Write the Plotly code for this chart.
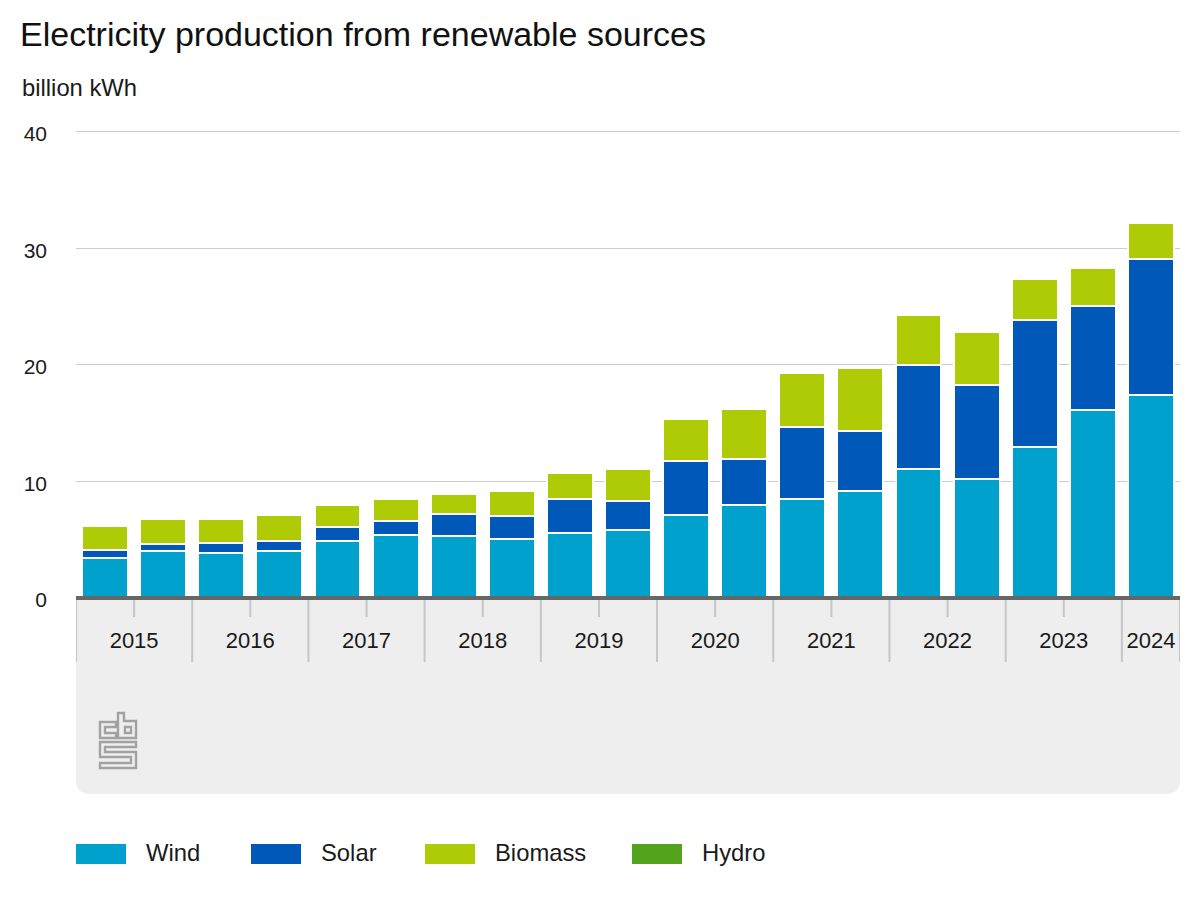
import plotly.graph_objects as go

# half-year periods, 2024 only has the first half
periods = ['2015 H1', '2015 H2', '2016 H1', '2016 H2', '2017 H1', '2017 H2', '2018 H1', '2018 H2',
           '2019 H1', '2019 H2', '2020 H1', '2020 H2', '2021 H1', '2021 H2', '2022 H1', '2022 H2',
           '2023 H1', '2023 H2', '2024 H1']
positions = list(range(len(periods)))

wind    = [3.4, 4.0, 3.9, 4.0, 4.9, 5.4, 5.3, 5.1, 5.6, 5.8, 7.1, 8.0, 8.5, 9.2, 11.1, 10.2, 13.0, 16.1, 17.4]
solar   = [0.7, 0.6, 0.8, 0.9, 1.2, 1.2, 1.9, 1.9, 2.9, 2.5, 4.7, 3.9, 6.2, 5.1, 8.9, 8.1, 10.9, 9.0, 11.7]
biomass = [2.1, 2.2, 2.1, 2.2, 1.9, 1.9, 1.7, 2.2, 2.2, 2.8, 3.6, 4.3, 4.6, 5.4, 4.3, 4.5, 3.5, 3.2, 3.1]
hydro   = [0.03, 0.02, 0.03, 0.02, 0.03, 0.02, 0.02, 0.02, 0.03, 0.02, 0.03, 0.02, 0.03, 0.02, 0.03, 0.02, 0.03, 0.02, 0.03]

series_names  = ['Wind', 'Solar', 'Biomass', 'Hydro']
series_values = [wind, solar, biomass, hydro]
series_colors = ['#00A1CD', '#0058B8', '#AFCB05', '#53A31D']

year_labels  = ['2015', '2016', '2017', '2018', '2019', '2020', '2021', '2022', '2023', '2024']
year_centers = [0.5, 2.5, 4.5, 6.5, 8.5, 10.5, 12.5, 14.5, 16.5, 18]
year_edges   = [-0.5, 1.5, 3.5, 5.5, 7.5, 9.5, 11.5, 13.5, 15.5, 17.5, 18.5]
y_ticks      = [0, 10, 20, 30, 40]

FONT = 'Liberation Sans, Arial, sans-serif'
TEXT = '#1a1a1a'
GREY_LINE = '#C6C6C6'
LOGO = '#A2A2A2'

# plot area in page pixels, a little headroom so the gridline at 40 is kept
LEFT, RIGHT, TOP, BOTTOM = 76, 1180, 130, 598
Y_MAX = 40.17


def px(x):
    return (x - LEFT) / (RIGHT - LEFT)


def py(y):
    return (BOTTOM - y) / (BOTTOM - TOP)


def poly(points):
    return 'M' + ' L'.join(f'{px(x):.5f},{py(y):.5f}' for x, y in points) + ' Z'


fig = go.Figure()

for name, values, color in zip(series_names, series_values, series_colors):
    fig.add_trace(go.Bar(
        x=positions, y=values, name=name, customdata=periods,
        hovertemplate='%{customdata}<br>' + name + ': %{y}<extra></extra>',
        width=0.79, marker=dict(color=color, line=dict(color='white', width=2))
    ))

shapes = []

# grey panel under the axis, rounded at the bottom
r = 14
panel_bottom = 794
panel = (f'M{px(LEFT):.5f},{py(BOTTOM):.5f} L{px(RIGHT):.5f},{py(BOTTOM):.5f} '
         f'L{px(RIGHT):.5f},{py(panel_bottom - r):.5f} '
         f'Q{px(RIGHT):.5f},{py(panel_bottom):.5f} {px(RIGHT - r):.5f},{py(panel_bottom):.5f} '
         f'L{px(LEFT + r):.5f},{py(panel_bottom):.5f} '
         f'Q{px(LEFT):.5f},{py(panel_bottom):.5f} {px(LEFT):.5f},{py(panel_bottom - r):.5f} Z')
shapes.append(dict(type='path', xref='paper', yref='paper', path=panel,
                   fillcolor='#EEEEEE', line=dict(width=0), layer='below'))

# short ticks in the middle of the full years
for center in year_centers[:-1]:
    shapes.append(dict(type='line', xref='x', yref='paper', x0=center, x1=center,
                       y0=py(BOTTOM), y1=py(617), line=dict(color=GREY_LINE, width=2)))

# long year dividers
for edge in year_edges:
    shapes.append(dict(type='line', xref='x', yref='paper', x0=edge, x1=edge,
                       y0=py(BOTTOM), y1=py(662), line=dict(color=GREY_LINE, width=2)))

# baseline
shapes.append(dict(type='line', xref='paper', yref='paper', x0=0, x1=1, y0=py(598), y1=py(598),
                   line=dict(color='#666666', width=4)))

# cbs logo
logo_paths = [
    [(116, 722), (100, 722), (100, 738), (116, 738), (116, 733), (105, 733), (105, 727), (116, 727)],
    [(118, 713), (124, 713), (124, 721), (136, 721), (136, 738), (118, 738)],
    [(125, 727), (131, 727), (131, 733), (125, 733)],
    [(100, 742), (136, 742), (136, 747), (105, 747), (105, 752), (136, 752), (136, 768),
     (100, 768), (100, 763), (131, 763), (131, 757), (100, 757)],
]
for points in logo_paths:
    shapes.append(dict(type='path', xref='paper', yref='paper', path=poly(points),
                       line=dict(color=LOGO, width=2.4)))

annotations = [
    dict(text='Electricity production from renewable sources', xref='paper', yref='paper',
         x=px(18), y=py(34), xanchor='left', yanchor='middle', showarrow=False,
         font=dict(size=34, color='#111111', family=FONT)),
    dict(text='billion kWh', xref='paper', yref='paper',
         x=px(20), y=py(87), xanchor='left', yanchor='middle', showarrow=False,
         font=dict(size=23.8, color=TEXT, family=FONT)),
]

# legend drawn by hand, swatches are wider than plotly's own
legend_x = [76, 251, 425, 632]
for name, color, x in zip(series_names, series_colors, legend_x):
    shapes.append(dict(type='rect', xref='paper', yref='paper', x0=px(x), x1=px(x + 50),
                       y0=py(864), y1=py(844), fillcolor=color, line=dict(width=0)))
    annotations.append(dict(text=name, xref='paper', yref='paper', x=px(x + 68), y=py(853),
                            xanchor='left', yanchor='middle', showarrow=False,
                            font=dict(size=23.8, color=TEXT, family=FONT)))

fig.update_layout(
    barmode='stack', width=1200, height=900, showlegend=False,
    paper_bgcolor='white', plot_bgcolor='white',
    margin=dict(l=LEFT, r=1200 - RIGHT, t=TOP, b=900 - BOTTOM, pad=0),
    font=dict(family=FONT, size=21, color=TEXT),
    shapes=shapes, annotations=annotations
)
fig.update_xaxes(
    range=[-0.5, 18.5], tickmode='array', tickvals=year_centers, ticktext=year_labels,
    ticks='', showgrid=False, zeroline=False, showline=False,
    ticklabelstandoff=27, tickfont=dict(size=22, color=TEXT, family=FONT)
)
fig.update_yaxes(
    range=[0, Y_MAX], tickmode='array', tickvals=y_ticks, ticks='',
    showgrid=True, gridcolor='#CCCCCC', gridwidth=1.2, zeroline=False, showline=False,
    ticklabelstandoff=28, ticklabelshift=2, tickfont=dict(size=21, color=TEXT, family=FONT)
)

fig.write_html("out.html", config=dict(displayModeBar=False), post_script="document.body.style.margin='0';")
